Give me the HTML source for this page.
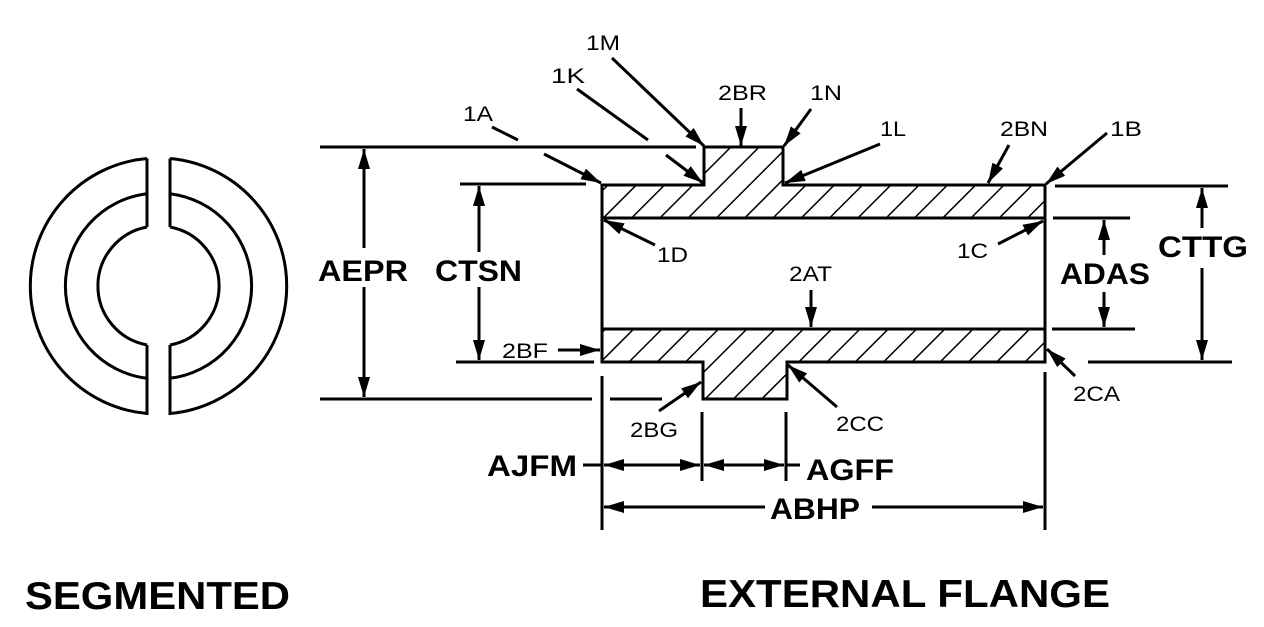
<!DOCTYPE html>
<html><head><meta charset="utf-8"><style>
html,body{margin:0;padding:0;background:#fff}
svg{display:block}
text{font-family:"Liberation Sans",Arial,sans-serif;fill:#000}
.s{font-size:21px}
.b{font-size:30px;font-weight:bold}
.t{font-size:39px;font-weight:bold}
</style></head><body>
<svg width="1264" height="627" viewBox="0 0 1264 627" xmlns="http://www.w3.org/2000/svg">
<defs>
<marker id="a" viewBox="0 0 20 12" refX="20" refY="6" markerWidth="20" markerHeight="12" markerUnits="userSpaceOnUse" orient="auto"><path d="M0,0 L20,6 L0,12 z" fill="#000"/></marker>
<pattern id="h" patternUnits="userSpaceOnUse" width="20" height="20" patternTransform="rotate(45)"><line x1="0" y1="0" x2="0" y2="20" stroke="#000" stroke-width="3"/></pattern>
</defs>
<g fill="none" stroke="#000" stroke-width="3">
<path d="M147,158.5 A128,128 0 0 0 147,413.5 L147,345 M147,227 L147,158.5"/>
<path d="M147,193.7 A93,93 0 0 0 147,378.3"/>
<path d="M147,227 A60,60 0 0 0 147,345"/>
<path d="M170,158.5 A128,128 0 0 1 170,413.5 L170,345 M170,227 L170,158.5"/>
<path d="M170,193.7 A93,93 0 0 1 170,378.3"/>
<path d="M170,227 A60,60 0 0 1 170,345"/>
</g>
<path d="M602,185 L704,185 L704,147 L783,147 L783,185 L1045,185 L1045,218 L602,218 Z" fill="url(#h)" stroke="#000" stroke-width="3"/>
<path d="M602,329 L1045,329 L1045,362 L787,362 L787,399 L703,399 L703,362 L602,362 Z" fill="url(#h)" stroke="#000" stroke-width="3"/>
<g stroke="#000" stroke-width="3" fill="none">
<line x1="602" y1="218" x2="602" y2="329"/>
<line x1="1045" y1="218" x2="1045" y2="329"/>
<line x1="320" y1="147" x2="696" y2="147"/>
<line x1="460" y1="184" x2="586" y2="184"/>
<line x1="456" y1="362" x2="594" y2="362"/>
<line x1="320" y1="399" x2="592" y2="399"/>
<line x1="610" y1="399" x2="662" y2="399"/>
<line x1="602" y1="376" x2="602" y2="530"/>
<line x1="702" y1="412" x2="702" y2="481"/>
<line x1="786" y1="412" x2="786" y2="481"/>
<line x1="1045" y1="372" x2="1045" y2="530"/>
<line x1="1055" y1="186" x2="1228" y2="186"/>
<line x1="1053" y1="218" x2="1130" y2="218"/>
<line x1="1052" y1="329" x2="1135" y2="329"/>
<line x1="1088" y1="362" x2="1232" y2="362"/>
<line x1="364" y1="248" x2="364" y2="149" marker-end="url(#a)"/>
<line x1="364" y1="287" x2="364" y2="397" marker-end="url(#a)"/>
<line x1="479" y1="252" x2="479" y2="186" marker-end="url(#a)"/>
<line x1="479" y1="287" x2="479" y2="360" marker-end="url(#a)"/>
<line x1="1104" y1="255" x2="1104" y2="220" marker-end="url(#a)"/>
<line x1="1104" y1="292" x2="1104" y2="327" marker-end="url(#a)"/>
<line x1="1202" y1="228" x2="1202" y2="188" marker-end="url(#a)"/>
<line x1="1202" y1="268" x2="1202" y2="360" marker-end="url(#a)"/>
<line x1="583" y1="465" x2="602" y2="465"/>
<line x1="652" y1="465" x2="604" y2="465" marker-end="url(#a)"/>
<line x1="652" y1="465" x2="700" y2="465" marker-end="url(#a)"/>
<line x1="744" y1="465" x2="704" y2="465" marker-end="url(#a)"/>
<line x1="744" y1="465" x2="784" y2="465" marker-end="url(#a)"/>
<line x1="786" y1="465" x2="800" y2="465"/>
<line x1="765" y1="507" x2="604" y2="507" marker-end="url(#a)"/>
<line x1="872" y1="507" x2="1043" y2="507" marker-end="url(#a)"/>
<line x1="612" y1="58" x2="704" y2="146" marker-end="url(#a)"/>
<line x1="577" y1="89" x2="648" y2="140"/>
<line x1="666" y1="155" x2="703" y2="183" marker-end="url(#a)"/>
<line x1="492" y1="127" x2="518" y2="140"/>
<line x1="544" y1="154" x2="601" y2="183" marker-end="url(#a)"/>
<line x1="741" y1="108" x2="741" y2="146" marker-end="url(#a)"/>
<line x1="811" y1="109" x2="784" y2="146" marker-end="url(#a)"/>
<line x1="880" y1="144" x2="785" y2="183" marker-end="url(#a)"/>
<line x1="1009" y1="145" x2="988" y2="183" marker-end="url(#a)"/>
<line x1="1107" y1="133" x2="1046" y2="184" marker-end="url(#a)"/>
<line x1="655" y1="245" x2="604" y2="220" marker-end="url(#a)"/>
<line x1="998" y1="244" x2="1043" y2="221" marker-end="url(#a)"/>
<line x1="811" y1="290" x2="811" y2="327" marker-end="url(#a)"/>
<line x1="558" y1="350" x2="600" y2="350" marker-end="url(#a)"/>
<line x1="659" y1="411" x2="701" y2="382" marker-end="url(#a)"/>
<line x1="837" y1="407" x2="788" y2="365" marker-end="url(#a)"/>
<line x1="1075" y1="376" x2="1047" y2="349" marker-end="url(#a)"/>
</g>
<text class="s" x="586" y="50" textLength="34" lengthAdjust="spacingAndGlyphs">1M</text>
<text class="s" x="551" y="83" textLength="34" lengthAdjust="spacingAndGlyphs">1K</text>
<text class="s" x="463" y="121" textLength="30" lengthAdjust="spacingAndGlyphs">1A</text>
<text class="s" x="718" y="100" textLength="49" lengthAdjust="spacingAndGlyphs">2BR</text>
<text class="s" x="810" y="100" textLength="32" lengthAdjust="spacingAndGlyphs">1N</text>
<text class="s" x="880" y="136" textLength="26" lengthAdjust="spacingAndGlyphs">1L</text>
<text class="s" x="1000" y="136" textLength="48" lengthAdjust="spacingAndGlyphs">2BN</text>
<text class="s" x="1110" y="136" textLength="32" lengthAdjust="spacingAndGlyphs">1B</text>
<text class="s" x="657" y="262" textLength="31" lengthAdjust="spacingAndGlyphs">1D</text>
<text class="s" x="957" y="258" textLength="31" lengthAdjust="spacingAndGlyphs">1C</text>
<text class="s" x="789" y="281" textLength="43" lengthAdjust="spacingAndGlyphs">2AT</text>
<text class="s" x="502" y="358" textLength="46" lengthAdjust="spacingAndGlyphs">2BF</text>
<text class="s" x="630" y="437" textLength="48" lengthAdjust="spacingAndGlyphs">2BG</text>
<text class="s" x="836" y="431" textLength="48" lengthAdjust="spacingAndGlyphs">2CC</text>
<text class="s" x="1073" y="401" textLength="47" lengthAdjust="spacingAndGlyphs">2CA</text>
<text class="b" x="318" y="281" textLength="90" lengthAdjust="spacingAndGlyphs">AEPR</text>
<text class="b" x="435" y="281" textLength="87" lengthAdjust="spacingAndGlyphs">CTSN</text>
<text class="b" x="1060" y="284" textLength="90" lengthAdjust="spacingAndGlyphs">ADAS</text>
<text class="b" x="1158" y="257" textLength="90" lengthAdjust="spacingAndGlyphs">CTTG</text>
<text class="b" x="487" y="476" textLength="90" lengthAdjust="spacingAndGlyphs">AJFM</text>
<text class="b" x="806" y="480" textLength="88" lengthAdjust="spacingAndGlyphs">AGFF</text>
<text class="b" x="770" y="519" textLength="90" lengthAdjust="spacingAndGlyphs">ABHP</text>
<text class="t" x="25" y="609" textLength="265" lengthAdjust="spacingAndGlyphs">SEGMENTED</text>
<text class="t" x="700" y="607" textLength="410" lengthAdjust="spacingAndGlyphs">EXTERNAL FLANGE</text>
</svg>
</body></html>
